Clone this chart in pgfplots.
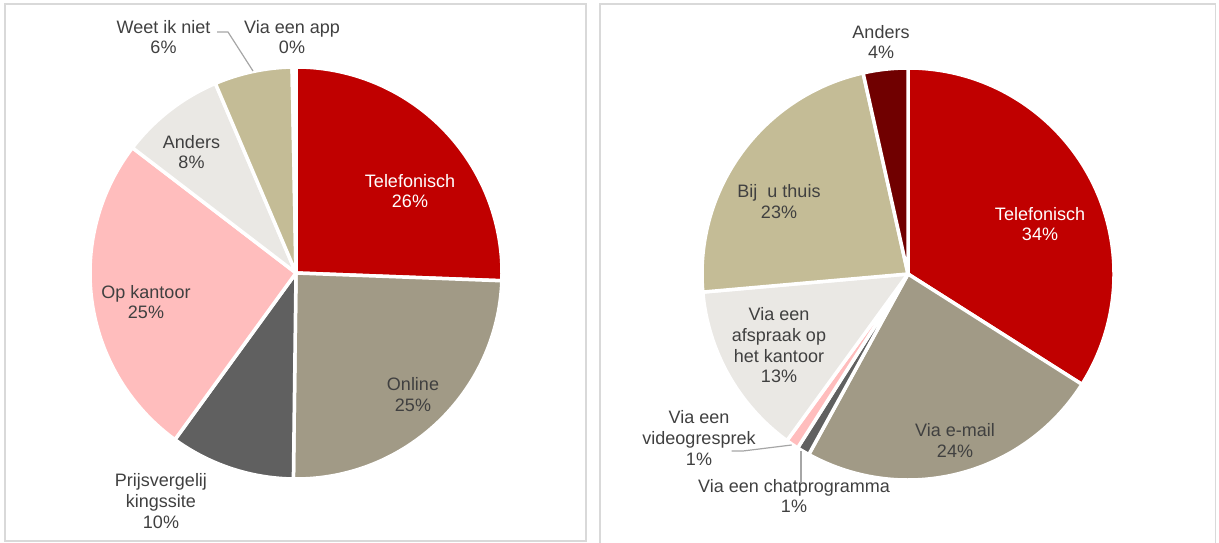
\documentclass[border=0pt]{standalone}
\usepackage{pgfplots}
\pgfplotsset{compat=1.18}
\usepackage{fontspec}
\setmainfont{Liberation Sans}
\definecolor{telred}{HTML}{C00000}
\definecolor{onl}{HTML}{A19A86}
\definecolor{dgray}{HTML}{606060}
\definecolor{pinkc}{HTML}{FFBDBD}
\definecolor{lgray}{HTML}{EAE8E4}
\definecolor{tanc}{HTML}{C4BC96}
\definecolor{dred}{HTML}{700000}
\definecolor{txt}{HTML}{404040}
\definecolor{frame}{HTML}{D9D9D9}
\definecolor{leader}{HTML}{A6A6A6}
% slice: #1 = cumulative start (%), #2 = value (%), #3 = colour
\newcommand{\pieslice}[3]{%
  \fill[#3, draw=white, line width=3.5bp, line join=round]
    (axis cs:0,0) -- ++({90-3.6*#1}:206bp)
    arc[start angle={90-3.6*#1}, end angle={90-3.6*(#1+#2)}, radius=206bp] -- cycle;}
\tikzset{lab/.style={align=center, inner sep=0pt, text=txt, font=\fontsize{18bp}{20.7bp}\selectfont}}
\begin{document}
\begin{tikzpicture}[x=1bp,y=1bp]
\useasboundingbox (0,0) rectangle (1219,543);
\draw[frame, line width=1.5bp] (5,2) rectangle (586,539);
\draw[frame, line width=1.5bp] (600,-5) rectangle (1215.5,539);

\begin{axis}[hide axis, x=1bp, y=1bp, xmin=-210, xmax=210, ymin=-210, ymax=210,
  anchor=origin, at={(296bp,270bp)}, clip=false]
\pieslice{0}{25.6}{telred}
\pieslice{25.6}{24.6}{onl}
\pieslice{50.2}{9.8}{dgray}
\pieslice{60}{25.4}{pinkc}
\pieslice{85.4}{8.2}{lgray}
\pieslice{93.6}{6.1}{tanc}
\pieslice{99.7}{0.3}{white}
\end{axis}

\begin{axis}[hide axis, x=1bp, y=1bp, xmin=-210, xmax=210, ymin=-210, ymax=210,
  anchor=origin, at={(908bp,269bp)}, clip=false]
\pieslice{0}{34}{telred}
\pieslice{34}{24}{onl}
\pieslice{58}{1}{dgray}
\pieslice{59}{1}{pinkc}
\pieslice{60}{13.6}{lgray}
\pieslice{73.6}{22.9}{tanc}
\pieslice{96.5}{3.5}{dred}
\end{axis}

% left labels
\node[lab, text=white] at (410,352) {Telefonisch\\26\%};
\node[lab] at (413,148.5) {Online\\25\%};
\node[lab] at (161,42) {Prijsvergelij\\kingssite\\10\%};
\node[lab] at (146,241) {Op kantoor\\25\%};
\node[lab] at (191.5,391) {Anders\\8\%};
\node[lab] at (163.5,506) {Weet ik niet\\6\%};
\node[lab] at (292,506) {Via een app\\0\%};
\draw[leader, line width=1.2bp] (217,511) -- (228,511) -- (253,472);

% right labels
\node[lab] at (881,501) {Anders\\4\%};
\node[lab, text=white] at (1040,319) {Telefonisch\\34\%};
\node[lab] at (955,102.5) {Via e-mail\\24\%};
\node[lab] at (794,47) {Via een chatprogramma\\1\%};
\node[lab] at (699,105) {Via een\\videogresprek\\1\%};
\node[lab] at (779,341.5) {Bij\ \ u thuis\\23\%};
\node[lab] at (779,197.5) {Via een\\afspraak op\\het kantoor\\13\%};
\draw[leader, line width=1.2bp] (731.7,92) -- (743,92) -- (791.7,98);
\draw[leader, line width=1.2bp] (801,92) -- (801,60);
\end{tikzpicture}
\end{document}
